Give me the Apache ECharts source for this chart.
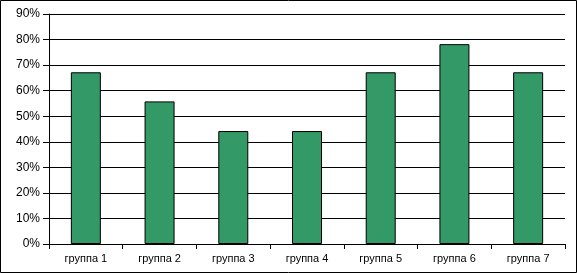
<!DOCTYPE html>
<html><head><meta charset="utf-8">
<script src="https://cdn.jsdelivr.net/npm/echarts@6/dist/echarts.min.js"></script>
<style>html,body{margin:0;padding:0;background:#fff}#c{width:577px;height:273px}</style>
</head><body><div id="c"></div>
<script>
const categories = ['группа 1','группа 2','группа 3','группа 4','группа 5','группа 6','группа 7'];
const values = [67.2, 55.8, 44.2, 44.2, 67.2, 78.2, 67.2];
const yTicks = [0, 10, 20, 30, 40, 50, 60, 70, 80, 90];

const chart = echarts.init(document.getElementById('c'), null, {renderer:'canvas'});
chart.setOption({
  animation: false,
  backgroundColor: '#fff',
  graphic: [{type:'rect', shape:{x:0.5,y:0.5,width:576,height:272}, style:{fill:'none', stroke:'#000', lineWidth:1}, z:100}],
  grid: {left: 49, right: 12, top: 14, bottom: 29},
  xAxis: {
    type: 'category', data: categories,
    axisLine: {lineStyle: {color: '#000', width: 1}},
    axisTick: {show: true, length: 5, lineStyle: {color: '#000'}, alignWithLabel: false},
    axisLabel: {color: '#000', fontFamily: 'Liberation Sans', fontSize: 11, margin: 9}
  },
  yAxis: {
    type: 'value', min: yTicks[0], max: yTicks[yTicks.length-1], interval: 10,
    axisLine: {show: true, lineStyle: {color: '#000', width: 1}},
    axisTick: {show: true, length: 6, lineStyle: {color: '#000'}},
    axisLabel: {color: '#000', fontFamily: 'Liberation Sans', fontSize: 12, margin: 9, formatter: v => v + '%'},
    splitLine: {show: true, lineStyle: {color: '#000', width: 1}}
  },
  series: [{
    type: 'bar', data: values, barWidth: 30,
    itemStyle: {color: '#339966', borderColor: '#000', borderWidth: 1}
  }]
});
</script></body></html>
